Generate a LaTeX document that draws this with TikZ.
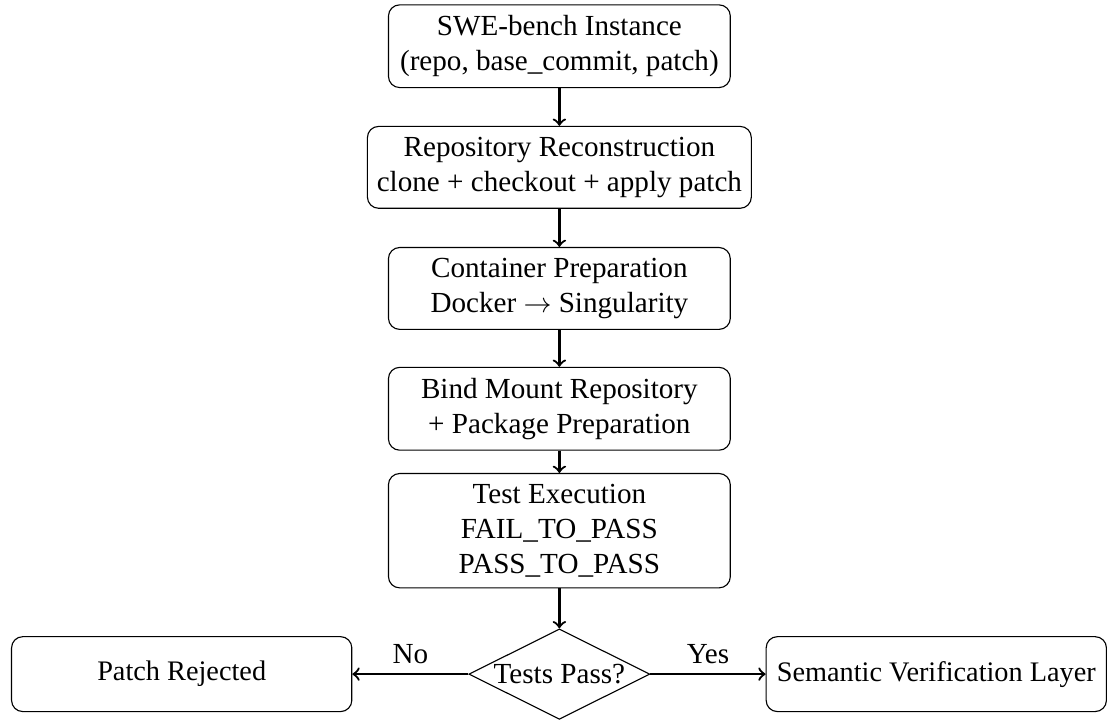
\documentclass[tikz,border=0pt]{standalone}
\usepackage{fontspec}
\setmainfont{Liberation Serif}
\usetikzlibrary{shapes.geometric}

\begin{document}
\begin{tikzpicture}
  [auto=left,every node/.style={align=center,font=\fontsize{10.4}{12.5}\selectfont},
   stage/.style={draw,rounded corners,minimum width=4.29cm,inner ysep=3.8pt},
   outcome/.style={draw,rounded corners,minimum width=4.27cm,minimum height=0.94cm,
     font=\fontsize{10.1}{12}\selectfont},
   check/.style={draw,diamond,aspect=2,inner sep=0.6pt}]
  \useasboundingbox (0,0) rectangle (13.93,-9.04);
  \node[stage] (inst) at (7.02,-0.58) {SWE-bench Instance\\(repo, base\_commit, patch)};
  \node[stage] (recon) at (7.02,-2.10) {Repository Reconstruction\\clone + checkout + apply patch};
  \node[stage] (cont) at (7.02,-3.62) {Container Preparation\\Docker $\rightarrow$ Singularity};
  \node[stage] (bind) at (7.02,-5.13) {Bind Mount Repository\\+ Package Preparation};
  \node[stage] (exec) at (7.02,-6.66) {Test Execution\\FAIL\_TO\_PASS\\PASS\_TO\_PASS};
  \node[check] (pass) at (7.02,-8.46) {Tests Pass?};
  \node[outcome] (reject) at (2.28,-8.46) {Patch Rejected};
  \node[outcome] (sem) at (11.75,-8.46) {Semantic Verification Layer};
 \path[->, draw,thick]
        (inst) edge (recon)
        (recon) edge (cont)
        (cont) edge (bind)
        (bind) edge (exec)
        (exec) edge (pass)
        (pass) edge node[swap] {No} (reject)
        (pass) edge node {Yes} (sem);

\end{tikzpicture}
\end{document}
